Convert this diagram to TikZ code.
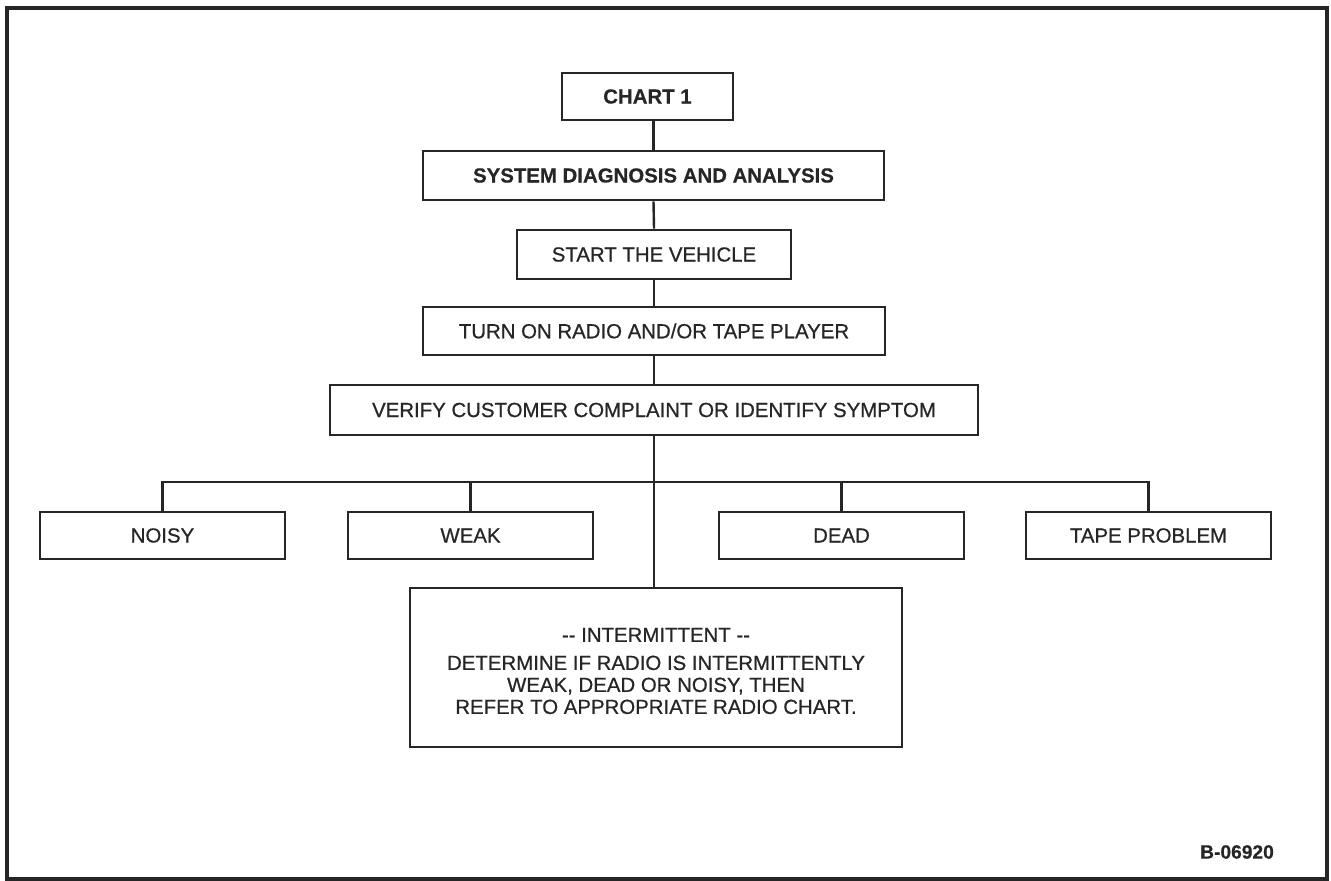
\documentclass[tikz,border=0pt]{standalone}
\usepackage{fontspec}
\setmainfont{Liberation Sans}[UprightFeatures={FakeBold=0.7}, BoldFeatures={FakeBold=0.4}]
\usetikzlibrary{positioning, calc}
\definecolor{ink}{HTML}{262626}

\begin{document}
\begin{tikzpicture}[x=0.5pt, y=-0.5pt,
  box/.style={draw=ink, line width=1.4pt, text=ink, inner sep=0pt,
    font=\fontsize{10.2}{10.2}\selectfont},
  boldbox/.style={box, font=\fontsize{10.2}{10.2}\selectfont\bfseries},
  link/.style={draw=ink, line width=1.2pt}]
  \useasboundingbox (0,0) rectangle (1331,881);
  % page frame
  \draw[ink, line width=1.8pt] (7,8) rectangle (1327,879);

  \node[boldbox, minimum width=85.5pt, minimum height=23.5pt] (chart) at (647.5,96.5) {CHART 1};
  \node[boldbox, minimum width=230.5pt, minimum height=24.5pt] (sys) at (653.5,175.5) {SYSTEM DIAGNOSIS AND ANALYSIS};
  \node[box, minimum width=137pt, minimum height=24.5pt] (start) at (654,254.5) {START THE VEHICLE};
  \node[box, minimum width=231pt, minimum height=24pt] (turn) at (654,331) {TURN ON RADIO AND/OR TAPE PLAYER};
  \node[box, minimum width=324pt, minimum height=25pt] (verify) at (654,410) {VERIFY CUSTOMER COMPLAINT OR IDENTIFY SYMPTOM};

  % symptoms
  \foreach \nm/\x/\txt in {noisy/162.5/NOISY, weak/470.5/WEAK, dead/841.5/DEAD, tape/1148.5/TAPE PROBLEM}
    \node[box, minimum width=122.5pt, minimum height=23.5pt] (\nm) at (\x,535.5) {\txt};

  \node[box, minimum width=246pt, minimum height=79.5pt] (inter) at (656,667.5) {};
  \node[text=ink, align=center, inner sep=0pt, font=\fontsize{10.2}{11}\selectfont] (intertxt) at (656,671)
    {\mbox{-}\mbox{-} INTERMITTENT \mbox{-}\mbox{-}\\[3pt]
     DETERMINE IF RADIO IS INTERMITTENTLY\\
     WEAK, DEAD OR NOISY, THEN\\
     REFER TO APPROPRIATE RADIO CHART.};

  \node[text=ink, inner sep=0pt, font=\fontsize{9.6}{10}\selectfont\bfseries] (code) at (1237,852) {B-06920};

  \coordinate (bus) at (654,482);
  \draw[link] (sys.north |- chart.south) -- (sys.north);
  \draw[link] (sys.south) -- (start.north);
  \draw[link] (start.south) -- (turn.north);
  \draw[link] (turn.south) -- (verify.north);
  \draw[link] (verify.south) -- (verify.south |- inter.north);
  \draw[link] (noisy.north) -- (noisy.north |- bus) -- (tape.north |- bus) -- (tape.north);
  \foreach \nm in {weak,dead}
    \draw[link] (\nm.north) -- (\nm.north |- bus);
\end{tikzpicture}
\end{document}
